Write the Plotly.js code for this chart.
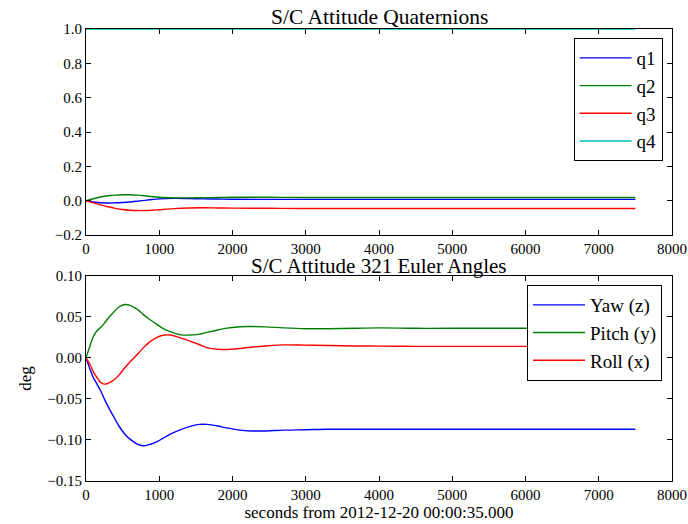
<!DOCTYPE html>
<html>
<head>
<meta charset="utf-8">
<script src="https://cdn.plot.ly/plotly-3.0.1.min.js"></script>
<style>html,body{margin:0;padding:0;background:#fff;}#chart{width:688px;height:524px;}</style>
</head>
<body>
<div id="chart"></div>
<script>
// Quaternion time samples (s) and components
const qTime = [0,100,200,300,400,500,600,700,800,900,1000,1200,1400,1600,1800,2000,2500,3000,4000,5000,6000,7000,7500];
const q1 = [0,-0.007,-0.012,-0.013,-0.012,-0.010,-0.007,-0.003,0.002,0.007,0.011,0.014,0.013,0.011,0.010,0.009,0.008,0.008,0.008,0.008,0.008,0.008,0.008];
const q2 = [0,0.012,0.022,0.029,0.033,0.035,0.035,0.033,0.029,0.024,0.020,0.017,0.017,0.018,0.019,0.020,0.020,0.019,0.019,0.019,0.019,0.019,0.019];
const q3 = [0,-0.012,-0.024,-0.035,-0.044,-0.051,-0.055,-0.057,-0.057,-0.055,-0.052,-0.046,-0.042,-0.041,-0.042,-0.043,-0.044,-0.045,-0.045,-0.045,-0.045,-0.045,-0.045];
const q4 = [1.0,1.0,0.9999,0.9999,0.9998,0.9998,0.9998,0.9998,0.9998,0.9998,0.9998,0.9998,0.9998,0.9998,0.9998,0.9998,0.9998,0.9998,0.9998,0.9998,0.9998,0.9998,0.9998];

// Euler angle time samples (s) and angles (deg)
const eTime = [0,60,100,150,200,250,300,380,450,530,600,700,780,850,950,1050,1150,1300,1400,1550,1650,1800,1900,2100,2250,2450,2700,3000,3300,3700,4000,4500,5000,6000,7000,7500];
const yaw = [0,-0.015,-0.024,-0.032,-0.040,-0.050,-0.059,-0.072,-0.083,-0.093,-0.099,-0.105,-0.107,-0.106,-0.103,-0.098,-0.093,-0.087,-0.084,-0.081,-0.081,-0.083,-0.085,-0.088,-0.089,-0.089,-0.088,-0.0875,-0.087,-0.087,-0.087,-0.087,-0.087,-0.087,-0.087,-0.087];
const pitch = [0,0.016,0.026,0.033,0.037,0.042,0.048,0.056,0.062,0.065,0.064,0.059,0.053,0.048,0.042,0.036,0.032,0.028,0.0278,0.029,0.031,0.034,0.036,0.038,0.0382,0.0378,0.0365,0.0355,0.0355,0.036,0.0365,0.036,0.036,0.036,0.036,0.036];
const roll = [0,-0.009,-0.017,-0.024,-0.030,-0.032,-0.031,-0.027,-0.021,-0.012,-0.005,0.004,0.012,0.018,0.024,0.0275,0.0278,0.024,0.021,0.016,0.0125,0.0105,0.0102,0.0115,0.013,0.0145,0.0158,0.0155,0.015,0.0145,0.0143,0.014,0.014,0.014,0.014,0.014];

const xTicks = [0,1000,2000,3000,4000,5000,6000,7000,8000];
const qNames = ['q1','q2','q3','q4'];
const eNames = ['Yaw (z)','Pitch (y)','Roll (x)'];
const colors = ['#0000ff','#008000','#ff0000','#00bfbf'];

const FONT = 'Liberation Serif, Times New Roman, serif';
const qData = [q1,q2,q3,q4];
const eData = [yaw,pitch,roll];
const traces = [];
qData.forEach((v,i)=>traces.push({x:qTime,y:v,name:qNames[i],type:'scatter',mode:'lines',
  line:{color:colors[i],width:1.4,shape:'spline'},xaxis:'x',yaxis:'y',legend:'legend'}));
eData.forEach((v,i)=>traces.push({x:eTime,y:v,name:eNames[i],type:'scatter',mode:'lines',
  line:{color:colors[i],width:1.4,shape:'spline'},xaxis:'x2',yaxis:'y2',legend:'legend2'}));

const axBase = {showgrid:false,zeroline:false,showline:true,linecolor:'#000',linewidth:1,mirror:'ticks',
  ticks:'inside',ticklen:5,tickcolor:'#000',tickfont:{family:FONT,size:15,color:'#000'}};

const layout = {
  width:688,height:524,paper_bgcolor:'#fff',plot_bgcolor:'#fff',
  margin:{l:86,r:16,t:29,b:43},
  showlegend:true,
  font:{family:FONT,color:'#000'},
  xaxis:Object.assign({},axBase,{domain:[0,1],anchor:'y',range:[0,8000],tickvals:xTicks}),
  yaxis:Object.assign({},axBase,{domain:[0.544,1],anchor:'x',range:[-0.2,1.0],dtick:0.2,tick0:0,tickformat:'.1f'}),
  xaxis2:Object.assign({},axBase,{domain:[0,1],anchor:'y2',range:[0,8000],tickvals:xTicks,
    title:{text:'seconds from 2012-12-20 00:00:35.000',font:{family:FONT,size:17,color:'#000'},standoff:3}}),
  yaxis2:Object.assign({},axBase,{domain:[0,0.454],anchor:'x2',range:[-0.15,0.10],dtick:0.05,tick0:0,tickformat:'.2f',
    title:{text:'deg',font:{family:FONT,size:17,color:'#000'},standoff:11}}),
  legend:{x:0.984,y:0.980,xanchor:'right',yanchor:'top',bgcolor:'#fff',bordercolor:'#000',borderwidth:1,
    font:{family:FONT,size:19,color:'#000'},itemwidth:52},
  legend2:{x:0.983,y:0.4336,xanchor:'right',yanchor:'top',bgcolor:'#fff',bordercolor:'#000',borderwidth:1,
    font:{family:FONT,size:19,color:'#000'},itemwidth:52},
  annotations:[
    {text:'S/C Attitude Quaternions',xref:'paper',yref:'paper',x:0.5,y:1.0265,xanchor:'center',yanchor:'middle',
     showarrow:false,font:{family:FONT,size:21.5,color:'#000'}},
    {text:'S/C Attitude 321 Euler Angles',xref:'paper',yref:'paper',x:0.5,y:0.4757,xanchor:'center',yanchor:'middle',
     showarrow:false,font:{family:FONT,size:21,color:'#000'}}
  ]
};

Plotly.newPlot('chart',traces,layout,{staticPlot:true,displayModeBar:false});
</script>
</body>
</html>
